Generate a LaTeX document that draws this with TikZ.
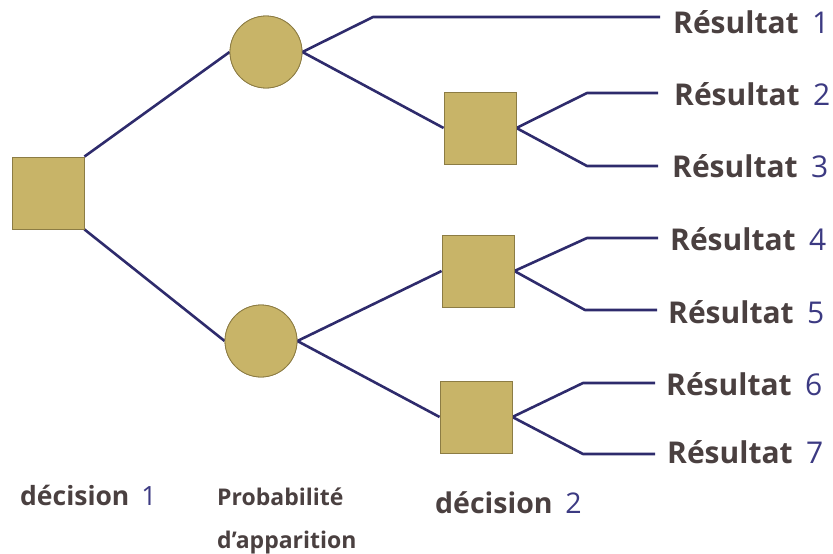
\documentclass[tikz,border=0pt]{standalone}
\usepackage{fontspec}
\setmainfont{Open Sans}
\begin{document}
\definecolor{tan}{HTML}{C8B468}
\definecolor{tanedge}{HTML}{8C7C44}
\definecolor{navy}{HTML}{2E2B6C}
\definecolor{word}{HTML}{4A4040}
\definecolor{num}{HTML}{3C3A82}
\newcommand{\lbl}[2]{{\bfseries\color{word}#1}\hspace{0.45em}{\color{num}#2}}
\begin{tikzpicture}[x=1pt,y=-1pt,
  choice/.style={draw=tanedge,line width=0.8pt,fill=tan,minimum size=72pt,inner sep=0pt,rectangle},
  chance/.style={draw=tanedge,line width=0.8pt,fill=tan,minimum size=72pt,inner sep=0pt,circle},
  branch/.style={draw=navy,line width=2.6pt,line join=round},
  result/.style={anchor=base west,inner sep=0pt,font=\fontsize{30}{36}\selectfont},
  caption/.style={anchor=base west,inner sep=0pt}]
\useasboundingbox (0,0) rectangle (833,554);

% decision and chance nodes
\node[choice] (d1) at (48,193) {};
\node[chance] (c1) at (266,52) {};
\node[chance] (c2) at (261,341) {};
\node[choice] (d2a) at (480,128) {};
\node[choice] (d2b) at (478,271) {};
\node[choice] (d2c) at (476,417) {};

% branch bends and leaf ends
\coordinate (k1) at (373,17);  \coordinate (e1) at (660,17);
\coordinate (k2) at (587,93);  \coordinate (e2) at (658,93);
\coordinate (k3) at (587,166); \coordinate (e3) at (658,166);
\coordinate (k4) at (587,238); \coordinate (e4) at (658,238);
\coordinate (k5) at (585,310); \coordinate (e5) at (657,310);
\coordinate (k6) at (583,383); \coordinate (e6) at (655,383);
\coordinate (k7) at (583,454); \coordinate (e7) at (655,454);

% connectors
\begin{scope}[on background layer/.try]
\draw[branch] (d1.north east) -- (c1.west);
\draw[branch] (d1.south east) -- (c2.west);
\draw[branch] (c1.east) -- (k1) -- (e1);
\draw[branch] (c1.east) -- (d2a.west);
\draw[branch] (c2.east) -- (d2b.west);
\draw[branch] (c2.east) -- (d2c.west);
\draw[branch] (d2a.east) -- (k2) -- (e2);
\draw[branch] (d2a.east) -- (k3) -- (e3);
\draw[branch] (d2b.east) -- (k4) -- (e4);
\draw[branch] (d2b.east) -- (k5) -- (e5);
\draw[branch] (d2c.east) -- (k6) -- (e6);
\draw[branch] (d2c.east) -- (k7) -- (e7);
\end{scope}
% redraw nodes above the lines
\node[choice] at (d1) {};
\node[chance] at (c1) {};
\node[chance] at (c2) {};
\node[choice] at (d2a) {};
\node[choice] at (d2b) {};
\node[choice] at (d2c) {};

% outcomes
\node[result] (r1) at (673,33)  {\lbl{Résultat}{1}};
\node[result] (r2) at (674,105) {\lbl{Résultat}{2}};
\node[result] (r3) at (672,177) {\lbl{Résultat}{3}};
\node[result] (r4) at (670,250) {\lbl{Résultat}{4}};
\node[result] (r5) at (668,323) {\lbl{Résultat}{5}};
\node[result] (r6) at (666,395) {\lbl{Résultat}{6}};
\node[result] (r7) at (667,463) {\lbl{Résultat}{7}};

% column captions
\node[caption,font=\fontsize{26.5}{30}\selectfont] (t1) at (20,505) {\lbl{décision}{1}};
\node[caption,font=\fontsize{23}{28}\selectfont\bfseries,text=word] (t2) at (217,505) {Probabilité};
\node[caption,font=\fontsize{23}{28}\selectfont\bfseries,text=word] (t3) at (217,548) {d’apparition};
\node[caption,font=\fontsize{28.5}{32}\selectfont] (t4) at (435,513) {\lbl{décision}{2}};
\end{tikzpicture}
\end{document}
